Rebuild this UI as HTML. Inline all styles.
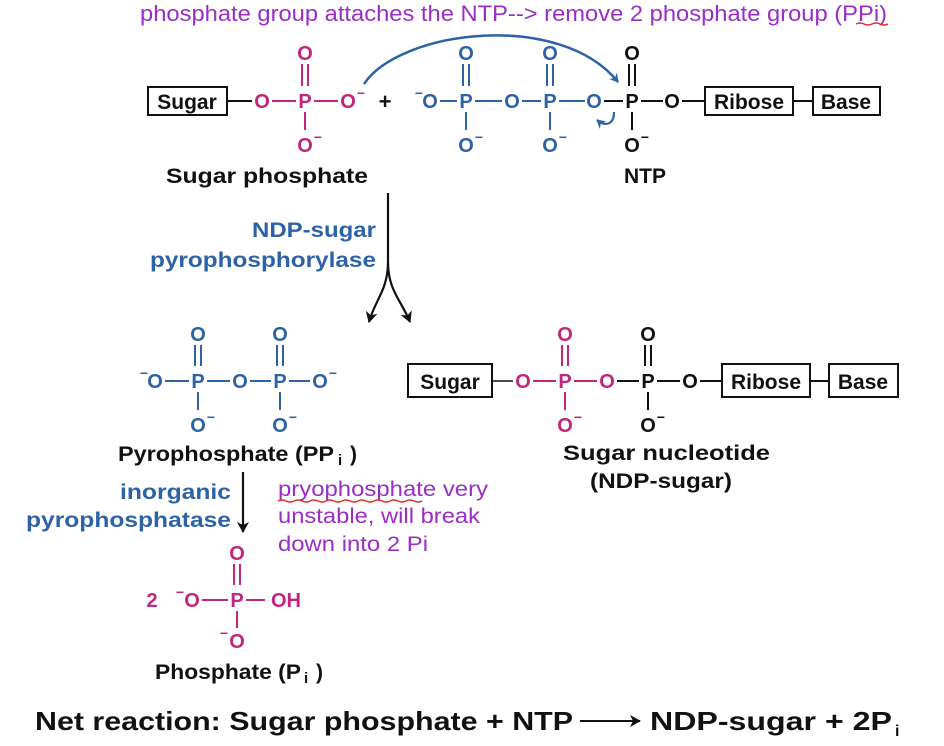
<!DOCTYPE html>
<html><head><meta charset="utf-8">
<style>
html,body{margin:0;padding:0;background:#fff;}
svg{display:block;}
text{font-family:"Liberation Sans",sans-serif;}
.a{font-weight:bold;font-size:20px;text-anchor:middle;}
.m{fill:#c0267c;}
.b{fill:#2d63a6;}
.k{fill:#111;}
.lab{font-weight:bold;font-size:21px;fill:#111;}
.pu{fill:#9a2dc6;font-size:21px;}
</style></head>
<body>
<svg width="944" height="746" viewBox="0 0 944 746" xmlns="http://www.w3.org/2000/svg">
<defs>
<marker id="ah" markerWidth="10" markerHeight="10" refX="8" refY="5" orient="auto" markerUnits="userSpaceOnUse">
<path d="M0,0 L9,5 L0,10 L3,5 Z" fill="#2d63a6"/></marker>
<marker id="ak" markerWidth="12" markerHeight="12" refX="10" refY="6" orient="auto" markerUnits="userSpaceOnUse">
<path d="M0,0 L11,6 L0,12 L3,6 Z" fill="#111"/></marker>
</defs>

<text x="140" y="21" class="pu" style="font-size:22px" textLength="747" lengthAdjust="spacingAndGlyphs">phosphate group attaches the NTP--&gt; remove 2 phosphate group (PPi)</text>
<path d="M856,24 q4,-2 8,0 t8,0 t8,0 t8,0" stroke="#e03030" stroke-width="1.5" fill="none"/>

<rect x="148" y="87" width="79" height="28" fill="none" stroke="#111" stroke-width="2"/>
<text x="187" y="109" class="lab" text-anchor="middle">Sugar</text>
<line x1="227" y1="101" x2="252" y2="101" stroke="#111" stroke-width="2"/>
<text x="262" y="108" class="a m">O</text>
<line x1="272" y1="101" x2="296" y2="101" stroke="#c0267c" stroke-width="2"/>
<text x="305" y="108" class="a m">P</text>
<line x1="314" y1="101" x2="338" y2="101" stroke="#c0267c" stroke-width="2"/>
<text x="348" y="108" class="a m">O</text><text x="361" y="98" class="a m" style="font-size:14px">−</text>
<text x="305" y="60" class="a m">O</text>
<line x1="302" y1="64" x2="302" y2="86" stroke="#c0267c" stroke-width="2"/><line x1="308" y1="64" x2="308" y2="86" stroke="#c0267c" stroke-width="2"/>
<line x1="305" y1="112" x2="305" y2="130" stroke="#c0267c" stroke-width="2"/>
<text x="305" y="152" class="a m">O</text><text x="318" y="142" class="a m" style="font-size:14px">−</text>
<text x="385" y="109" class="a k" style="font-size:22px">+</text>

<text x="419" y="98" class="a b" style="font-size:14px">−</text>
<text x="430" y="108" class="a b">O</text>
<line x1="440" y1="101" x2="457" y2="101" stroke="#2d63a6" stroke-width="2"/>
<text x="466" y="108" class="a b">P</text>
<line x1="475" y1="101" x2="502" y2="101" stroke="#2d63a6" stroke-width="2"/>
<text x="512" y="108" class="a b">O</text>
<line x1="522" y1="101" x2="541" y2="101" stroke="#2d63a6" stroke-width="2"/>
<text x="550" y="108" class="a b">P</text>
<line x1="559" y1="101" x2="585" y2="101" stroke="#2d63a6" stroke-width="2"/>
<text x="594" y="108" class="a b">O</text>
<text x="466" y="60" class="a b">O</text>
<line x1="463" y1="64" x2="463" y2="86" stroke="#2d63a6" stroke-width="2"/><line x1="469" y1="64" x2="469" y2="86" stroke="#2d63a6" stroke-width="2"/>
<line x1="466" y1="112" x2="466" y2="130" stroke="#2d63a6" stroke-width="2"/>
<text x="466" y="152" class="a b">O</text><text x="479" y="142" class="a b" style="font-size:14px">−</text>
<text x="550" y="60" class="a b">O</text>
<line x1="547" y1="64" x2="547" y2="86" stroke="#2d63a6" stroke-width="2"/><line x1="553" y1="64" x2="553" y2="86" stroke="#2d63a6" stroke-width="2"/>
<line x1="550" y1="112" x2="550" y2="130" stroke="#2d63a6" stroke-width="2"/>
<text x="550" y="152" class="a b">O</text><text x="563" y="142" class="a b" style="font-size:14px">−</text>

<line x1="604" y1="101" x2="623" y2="101" stroke="#111" stroke-width="2"/>
<text x="632" y="108" class="a k">P</text>
<line x1="641" y1="101" x2="663" y2="101" stroke="#111" stroke-width="2"/>
<text x="672" y="108" class="a k">O</text>
<line x1="682" y1="101" x2="705" y2="101" stroke="#111" stroke-width="2"/>
<text x="632" y="60" class="a k">O</text>
<line x1="629" y1="64" x2="629" y2="86" stroke="#111" stroke-width="2"/><line x1="635" y1="64" x2="635" y2="86" stroke="#111" stroke-width="2"/>
<line x1="632" y1="112" x2="632" y2="130" stroke="#111" stroke-width="2"/>
<text x="632" y="152" class="a k">O</text><text x="645" y="142" class="a k" style="font-size:14px">−</text>
<rect x="705" y="87" width="88" height="28" fill="none" stroke="#111" stroke-width="2"/>
<text x="749" y="109" class="lab" text-anchor="middle">Ribose</text>
<line x1="793" y1="101" x2="813" y2="101" stroke="#111" stroke-width="2"/>
<rect x="813" y="87" width="67" height="28" fill="none" stroke="#111" stroke-width="2"/>
<text x="846" y="109" class="lab" text-anchor="middle">Base</text>

<path d="M364,84 C400,30 560,10 618,82" stroke="#2d63a6" stroke-width="2.5" fill="none" marker-end="url(#ah)"/>
<path d="M614,112 C614,126 604,126 597,120" stroke="#2d63a6" stroke-width="2.2" fill="none" marker-end="url(#ah)"/>

<text x="166" y="183" class="lab" textLength="202" lengthAdjust="spacingAndGlyphs">Sugar phosphate</text>
<text x="645" y="183" class="lab" text-anchor="middle">NTP</text>

<path d="M388,193 L388,262 C388,290 375,300 369,322" stroke="#111" stroke-width="2.2" fill="none" marker-end="url(#ak)"/>
<path d="M388,262 C388,290 401,300 410,322" stroke="#111" stroke-width="2.2" fill="none" marker-end="url(#ak)"/>
<text x="252" y="237" class="lab" style="fill:#2d63a6" textLength="124" lengthAdjust="spacingAndGlyphs">NDP-sugar</text>
<text x="376" y="267" class="lab" text-anchor="end" style="fill:#2d63a6" textLength="226" lengthAdjust="spacingAndGlyphs">pyrophosphorylase</text>

<text x="144" y="378" class="a b" style="font-size:14px">−</text>
<text x="155" y="388" class="a b">O</text>
<line x1="165" y1="381" x2="189" y2="381" stroke="#2d63a6" stroke-width="2"/>
<text x="198" y="388" class="a b">P</text>
<line x1="207" y1="381" x2="230" y2="381" stroke="#2d63a6" stroke-width="2"/>
<text x="240" y="388" class="a b">O</text>
<line x1="250" y1="381" x2="271" y2="381" stroke="#2d63a6" stroke-width="2"/>
<text x="280" y="388" class="a b">P</text>
<line x1="289" y1="381" x2="310" y2="381" stroke="#2d63a6" stroke-width="2"/>
<text x="320" y="388" class="a b">O</text><text x="333" y="378" class="a b" style="font-size:14px">−</text>
<text x="198" y="341" class="a b">O</text>
<line x1="195" y1="345" x2="195" y2="366" stroke="#2d63a6" stroke-width="2"/><line x1="201" y1="345" x2="201" y2="366" stroke="#2d63a6" stroke-width="2"/>
<line x1="198" y1="392" x2="198" y2="410" stroke="#2d63a6" stroke-width="2"/>
<text x="198" y="432" class="a b">O</text><text x="211" y="422" class="a b" style="font-size:14px">−</text>
<text x="280" y="341" class="a b">O</text>
<line x1="277" y1="345" x2="277" y2="366" stroke="#2d63a6" stroke-width="2"/><line x1="283" y1="345" x2="283" y2="366" stroke="#2d63a6" stroke-width="2"/>
<line x1="280" y1="392" x2="280" y2="410" stroke="#2d63a6" stroke-width="2"/>
<text x="280" y="432" class="a b">O</text><text x="293" y="422" class="a b" style="font-size:14px">−</text>
<text x="118" y="461" class="lab" textLength="216" lengthAdjust="spacingAndGlyphs">Pyrophosphate (PP</text>
<text x="338" y="465" class="lab" style="font-size:15px">i</text>
<text x="350" y="461" class="lab">)</text>

<rect x="408" y="364" width="84" height="33" fill="none" stroke="#111" stroke-width="2"/>
<text x="450" y="389" class="lab" text-anchor="middle">Sugar</text>
<line x1="492" y1="381" x2="513" y2="381" stroke="#111" stroke-width="1.5"/>
<text x="523" y="388" class="a m">O</text>
<line x1="533" y1="381" x2="556" y2="381" stroke="#c0267c" stroke-width="2"/>
<text x="565" y="388" class="a m">P</text>
<line x1="574" y1="381" x2="597" y2="381" stroke="#c0267c" stroke-width="2"/>
<text x="607" y="388" class="a m">O</text>
<line x1="617" y1="381" x2="639" y2="381" stroke="#111" stroke-width="2"/>
<text x="565" y="341" class="a m">O</text>
<line x1="562" y1="345" x2="562" y2="366" stroke="#c0267c" stroke-width="2"/><line x1="568" y1="345" x2="568" y2="366" stroke="#c0267c" stroke-width="2"/>
<line x1="565" y1="392" x2="565" y2="410" stroke="#c0267c" stroke-width="2"/>
<text x="565" y="432" class="a m">O</text><text x="578" y="422" class="a m" style="font-size:14px">−</text>
<text x="648" y="388" class="a k">P</text>
<line x1="657" y1="381" x2="680" y2="381" stroke="#111" stroke-width="2"/>
<text x="690" y="388" class="a k">O</text>
<line x1="700" y1="381" x2="722" y2="381" stroke="#111" stroke-width="2"/>
<text x="648" y="341" class="a k">O</text>
<line x1="645" y1="345" x2="645" y2="366" stroke="#111" stroke-width="2"/><line x1="651" y1="345" x2="651" y2="366" stroke="#111" stroke-width="2"/>
<line x1="648" y1="392" x2="648" y2="410" stroke="#111" stroke-width="2"/>
<text x="648" y="432" class="a k">O</text><text x="661" y="422" class="a k" style="font-size:14px">−</text>
<rect x="722" y="364" width="88" height="33" fill="none" stroke="#111" stroke-width="2"/>
<text x="766" y="389" class="lab" text-anchor="middle">Ribose</text>
<line x1="810" y1="381" x2="829" y2="381" stroke="#111" stroke-width="2"/>
<rect x="829" y="364" width="69" height="33" fill="none" stroke="#111" stroke-width="2"/>
<text x="863" y="389" class="lab" text-anchor="middle">Base</text>
<text x="563" y="460" class="lab" textLength="207" lengthAdjust="spacingAndGlyphs">Sugar  nucleotide</text>
<text x="590" y="488" class="lab" textLength="142" lengthAdjust="spacingAndGlyphs">(NDP-sugar)</text>

<line x1="243" y1="472" x2="243" y2="532" stroke="#111" stroke-width="2.2" marker-end="url(#ak)"/>
<text x="120" y="499" class="lab" style="fill:#2d63a6" textLength="111" lengthAdjust="spacingAndGlyphs">inorganic</text>
<text x="231" y="527" class="lab" text-anchor="end" style="fill:#2d63a6" textLength="205" lengthAdjust="spacingAndGlyphs">pyrophosphatase</text>
<text x="278" y="496" class="pu" textLength="210" lengthAdjust="spacingAndGlyphs">pryophosphate very</text>
<path d="M278,501 q4,-2 8,0 t8,0 t8,0 t8,0 t8,0 t8,0 t8,0 t8,0 t8,0 t8,0 t8,0 t8,0 t8,0 t8,0 t8,0 t8,0 t8,0 t8,0" stroke="#e03030" stroke-width="1.5" fill="none"/>
<text x="278" y="523" class="pu" textLength="202" lengthAdjust="spacingAndGlyphs">unstable, will break</text>
<text x="278" y="551" class="pu" textLength="150" lengthAdjust="spacingAndGlyphs">down into 2 Pi</text>

<text x="152" y="607" class="a m">2</text>
<text x="180" y="597" class="a m" style="font-size:14px">−</text>
<text x="192" y="607" class="a m">O</text>
<line x1="202" y1="600" x2="228" y2="600" stroke="#c0267c" stroke-width="2"/>
<text x="237" y="607" class="a m">P</text>
<line x1="246" y1="600" x2="265" y2="600" stroke="#c0267c" stroke-width="2"/>
<text x="286" y="607" class="a m">OH</text>
<text x="237" y="560" class="a m">O</text>
<line x1="234" y1="564" x2="234" y2="585" stroke="#c0267c" stroke-width="2"/><line x1="240" y1="564" x2="240" y2="585" stroke="#c0267c" stroke-width="2"/>
<line x1="237" y1="611" x2="237" y2="628" stroke="#c0267c" stroke-width="2"/>
<text x="224" y="638" class="a m" style="font-size:14px">−</text>
<text x="237" y="648" class="a m">O</text>
<text x="155" y="679" class="lab" textLength="146" lengthAdjust="spacingAndGlyphs">Phosphate (P</text>
<text x="304" y="683" class="lab" style="font-size:15px">i</text>
<text x="316" y="679" class="lab">)</text>

<text x="35" y="730" style="font-weight:bold;font-size:26px;fill:#111" textLength="538" lengthAdjust="spacingAndGlyphs">Net reaction: Sugar phosphate  +  NTP</text>
<line x1="580" y1="721" x2="640" y2="721" stroke="#111" stroke-width="2" marker-end="url(#ak)"/>
<text x="650" y="730" style="font-weight:bold;font-size:26px;fill:#111" textLength="242" lengthAdjust="spacingAndGlyphs">NDP-sugar  +  2P</text>
<text x="895" y="736" style="font-weight:bold;font-size:16px;fill:#111">i</text>
</svg>
</body></html>
